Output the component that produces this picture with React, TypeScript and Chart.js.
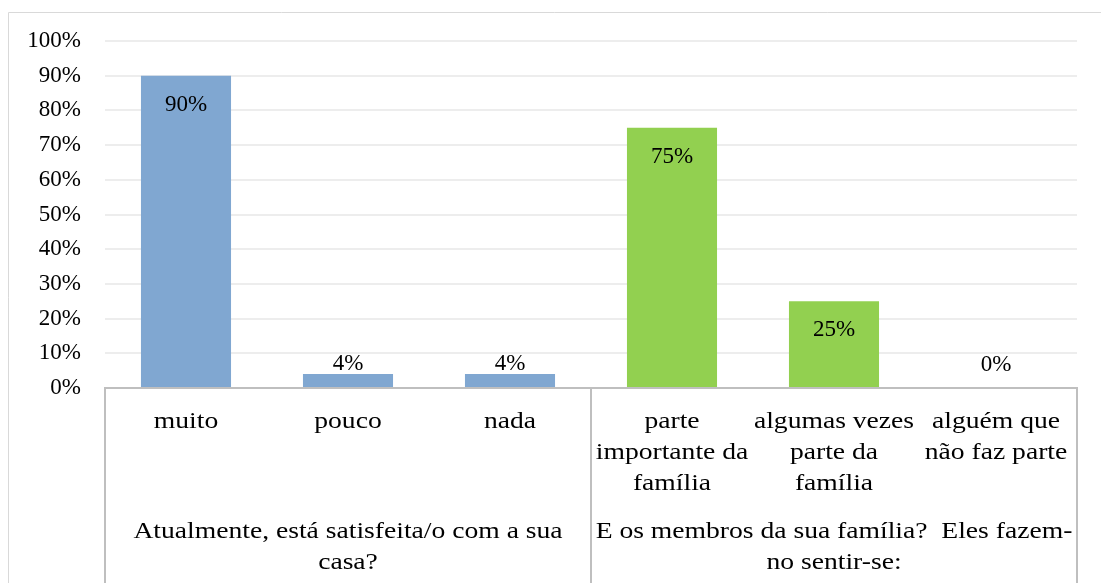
import React, { useEffect, useRef } from "react";
import { Chart, registerables } from "chart.js";

Chart.register(...registerables);

const categories: string[][] = [
  ["muito"],
  ["pouco"],
  ["nada"],
  ["parte", "importante da", "família"],
  ["algumas vezes", "parte da", "família"],
  ["alguém que", "não faz parte"],
];
const values: number[] = [90, 4, 4, 75, 25, 0];
const groups: { lines: string[]; start: number; end: number }[] = [
  { lines: ["Atualmente, está satisfeita/o com a sua", "casa?"], start: 0, end: 2 },
  { lines: ["E os membros da sua família?  Eles fazem-", "no sentir-se:"], start: 3, end: 5 },
];
const barColors: string[] = ["#80a7d1", "#80a7d1", "#80a7d1", "#92d050", "#92d050", "#92d050"];
const yTicks: number[] = [0, 10, 20, 30, 40, 50, 60, 70, 80, 90, 100];

const FONT = '"Liberation Serif", "Times New Roman", Tinos, serif';
const SEP = "#bfbfbf";
const STRETCH = 1.15;

function stretchedText(ctx: any, t: string, x: number, y: number) {
  ctx.save();
  ctx.translate(x, y);
  ctx.scale(STRETCH, 1);
  ctx.fillText(t, 0, 0);
  ctx.restore();
}

const customPlugin = {
  id: "custom",
  beforeDraw(chart: any) {
    const ctx = chart.ctx;
    ctx.save();
    ctx.strokeStyle = "#d9d9d9";
    ctx.lineWidth = 1;
    ctx.beginPath();
    ctx.moveTo(8.5, chart.height);
    ctx.lineTo(8.5, 12.5);
    ctx.lineTo(chart.width, 12.5);
    ctx.stroke();
    ctx.restore();
  },
  afterDraw(chart: any) {
    const ctx = chart.ctx;
    const xs = chart.scales.x;
    const area = chart.chartArea;
    const n = categories.length;
    const catW = (area.right - area.left) / n;
    ctx.save();
    ctx.strokeStyle = SEP;
    ctx.lineWidth = 2;
    const bounds: number[] = [];
    groups.forEach((g) => {
      bounds.push(xs.getPixelForValue(g.start) - catW / 2);
    });
    bounds.push(xs.getPixelForValue(groups[groups.length - 1].end) + catW / 2);
    bounds.forEach((bx) => {
      ctx.beginPath();
      ctx.moveTo(bx, area.bottom - 1);
      ctx.lineTo(bx, chart.height);
      ctx.stroke();
    });
    ctx.fillStyle = "#000";
    ctx.textAlign = "center";
    ctx.textBaseline = "middle";
    ctx.font = `24px ${FONT}`;
    categories.forEach((lines, i) => {
      const cx = xs.getPixelForValue(i);
      lines.forEach((l, j) => {
        stretchedText(ctx, l, cx, area.bottom + 34 + j * 31);
      });
    });
    groups.forEach((g) => {
      const l = xs.getPixelForValue(g.start) - catW / 2;
      const r = xs.getPixelForValue(g.end) + catW / 2;
      const cx = (l + r) / 2;
      g.lines.forEach((t, j) => {
        stretchedText(ctx, t, cx, area.bottom + 144 + j * 31);
      });
    });
    ctx.font = `23px ${FONT}`;
    const meta = chart.getDatasetMeta(0);
    meta.data.forEach((el: any, i: number) => {
      const cy = Math.min(el.y + 29, el.base - 23);
      ctx.fillText(values[i] + "%", el.x, cy);
    });
    ctx.restore();
  },
};

export default function App() {
  const ref = useRef<HTMLCanvasElement>(null);
  useEffect(() => {
    if (!ref.current) return;
    let chart: any = null;
    let cancelled = false;
    const build = () => {
      if (cancelled || !ref.current) return;
      Chart.defaults.font.family = FONT;
      chart = new Chart(ref.current, {
        type: "bar",
        data: {
          labels: categories.map((c) => c.join(" ")),
          datasets: [
            {
              data: values,
              backgroundColor: barColors,
              borderWidth: 0,
              categoryPercentage: 1,
              barPercentage: 0.556,
            },
          ],
        },
        options: {
          responsive: false,
          animation: false,
          layout: { padding: { top: 41, right: 24, left: 0, bottom: 0 } },
          plugins: { legend: { display: false }, tooltip: { enabled: false } },
          scales: {
            x: {
              ticks: { display: false },
              grid: { display: false },
              border: { display: true, color: SEP, width: 2 },
              afterFit: (s: any) => {
                s.height = 195;
              },
            },
            y: {
              min: 0,
              max: 100,
              afterBuildTicks: (s: any) => {
                s.ticks = yTicks.map((v) => ({ value: v }));
              },
              ticks: {
                padding: 24,
                color: "#000",
                font: { size: 23, family: FONT },
                callback: (v: any) => v + "%",
              },
              grid: { color: "#ededed", lineWidth: 2, drawTicks: false },
              border: { display: false },
              afterFit: (s: any) => {
                s.width = 105;
              },
            },
          },
        },
        plugins: [customPlugin],
      });
    };
    const fonts: any = (document as any).fonts;
    if (fonts && fonts.load) {
      Promise.all([
        fonts.load('23px "Liberation Serif"'),
        fonts.load('24px "Liberation Serif"'),
      ]).then(build, build);
    } else {
      build();
    }
    return () => {
      cancelled = true;
      if (chart) chart.destroy();
    };
  }, []);
  return (
    <div style={{ position: "absolute", left: 0, top: 0, width: 1101, height: 583, background: "#fff" }}>
      <canvas ref={ref} width={1101} height={583} style={{ display: "block" }} />
    </div>
  );
}
